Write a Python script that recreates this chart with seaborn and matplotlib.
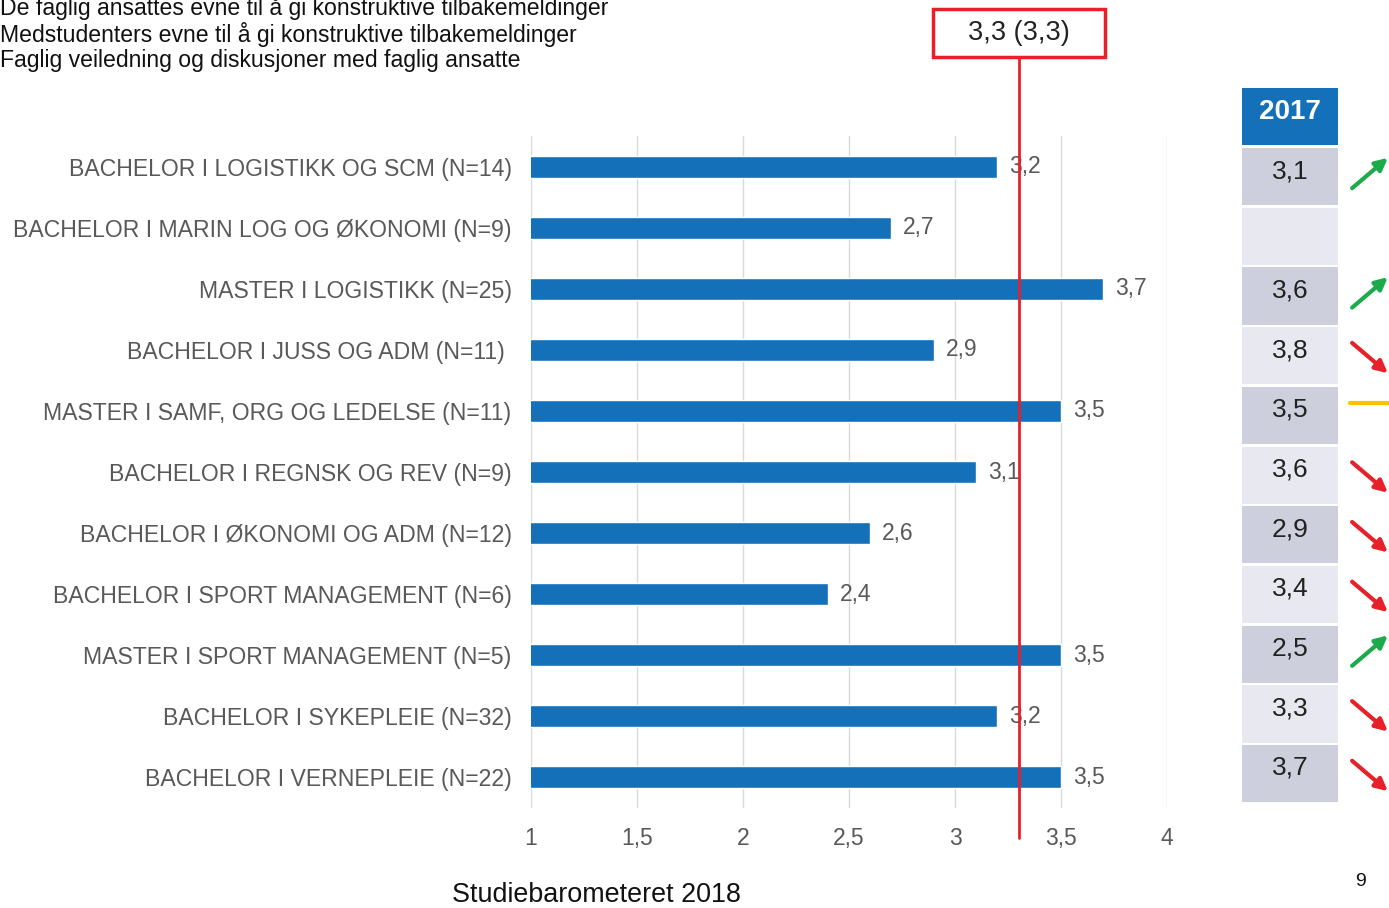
import numpy as np
import pandas as pd
import seaborn as sns
import matplotlib.pyplot as plt
from matplotlib.patches import Rectangle
from matplotlib.ticker import FuncFormatter

sns.set_theme(style="white")
plt.rcParams['font.family'] = ['Liberation Sans', 'DejaVu Sans']

# Data
programs = [
    "BACHELOR I LOGISTIKK OG SCM (N=14)",
    "BACHELOR I MARIN LOG OG ØKONOMI (N=9)",
    "MASTER I LOGISTIKK (N=25)",
    "BACHELOR I JUSS OG ADM (N=11) ",
    "MASTER I SAMF, ORG OG LEDELSE (N=11)",
    "BACHELOR I REGNSK OG REV (N=9)",
    "BACHELOR I ØKONOMI OG ADM (N=12)",
    "BACHELOR I SPORT MANAGEMENT (N=6)",
    "MASTER I SPORT MANAGEMENT (N=5)",
    "BACHELOR I SYKEPLEIE (N=32)",
    "BACHELOR I VERNEPLEIE (N=22)",
]
scores_2018 = [3.2, 2.7, 3.7, 2.9, 3.5, 3.1, 2.6, 2.4, 3.5, 3.2, 3.5]
scores_2017 = [3.1, None, 3.6, 3.8, 3.5, 3.6, 2.9, 3.4, 2.5, 3.3, 3.7]
mean_2018 = 3.3
mean_2017 = 3.3
question_lines = [
    "De faglig ansattes evne til å gi konstruktive tilbakemeldinger",
    "Medstudenters evne til å gi konstruktive tilbakemeldinger",
    "Faglig veiledning og diskusjoner med faglig ansatte",
]

blue = "#1570BA"
grey_txt = "#595959"


def comma(v):
    s = f"{v:g}"
    return s.replace(".", ",")


df = pd.DataFrame({"program": programs, "score": scores_2018})

fig = plt.figure(figsize=(13.89, 9.08), dpi=100)
ax = fig.add_axes([531 / 1389, 100 / 908, 636 / 1389, 672 / 908])

sns.barplot(data=df, x="score", y="program", color=blue, width=0.36,
            saturation=1, ax=ax, orient="h")
ax.set_xlim(1, 4)
ax.set_ylim(10.5, -0.5)
ax.set_xticks(np.arange(1, 4.01, 0.5))
ax.xaxis.set_major_formatter(FuncFormatter(lambda v, p: comma(v)))
ax.grid(axis="x", color="#D9D9D9", linewidth=1)
ax.set_axisbelow(True)
for s in ax.spines.values():
    s.set_visible(False)
ax.set_xlabel("")
ax.set_ylabel("")
ax.tick_params(axis="x", labelsize=16.5, colors=grey_txt, pad=14, length=0)
ax.tick_params(axis="y", labelsize=16.6, colors=grey_txt, pad=14, length=0)

for i, v in enumerate(scores_2018):
    ax.text(v + 0.055, i, comma(v), va="center", ha="left",
            fontsize=16.5, color=grey_txt)

# Mean line and box
ax.axvline(mean_2018, ymin=-0.045, ymax=1.118, color="#E8202A",
           linewidth=2, clip_on=False, zorder=5)
trans = ax.get_xaxis_transform()
box_w = 172 / 212
ax.add_patch(Rectangle((mean_2018 - box_w / 2, 1.118), box_w, 0.071,
                       transform=trans, facecolor="white", edgecolor="#E8202A",
                       linewidth=2.5, clip_on=False, zorder=6))
ax.text(mean_2018, 1.153, f"{comma(mean_2018)} ({comma(mean_2017)})",
        transform=trans, ha="center", va="center", fontsize=19.5,
        color="#222222", zorder=7)

# Overlay in pixel coordinates for table, titles and footer
ov = fig.add_axes([0, 0, 1, 1], facecolor="none")
ov.set_xlim(0, 1389)
ov.set_ylim(908, 0)
ov.axis("off")

for k, line in enumerate(question_lines):
    ov.text(0, 8 + k * 26.5, line, ha="left", va="center", fontsize=16.6,
            color="#111111")

# 2017 column
col_x, col_w = 1242, 96
ov.add_patch(Rectangle((col_x, 88), col_w, 57, facecolor=blue, edgecolor="none"))
ov.text(col_x + col_w / 2, 112, "2017", ha="center", va="center",
        fontsize=20, fontweight="bold", color="white")
cell_h = 59.7
for i, prev in enumerate(scores_2017):
    top = 148 + i * cell_h
    fc = "#CDCFDC" if i % 2 == 0 else "#E8E9F0"
    ov.add_patch(Rectangle((col_x, top), col_w, cell_h - 2.5, facecolor=fc,
                           edgecolor="none"))
    yc = top + 23
    if prev is None:
        continue
    ov.text(col_x + col_w / 2, yc, comma(prev), ha="center", va="center",
            fontsize=19, color="#222222")
    cur = scores_2018[i]
    ay = top + 28
    if cur > prev:
        ov.annotate("", xy=(1390, ay - 20), xytext=(1350, ay + 14),
                    arrowprops=dict(arrowstyle="-|>", color="#1DAA4B",
                                    lw=3, mutation_scale=18),
                    annotation_clip=False)
    elif cur < prev:
        ov.annotate("", xy=(1390, ay + 20), xytext=(1350, ay - 14),
                    arrowprops=dict(arrowstyle="-|>", color="#E8202A",
                                    lw=3, mutation_scale=18),
                    annotation_clip=False)
    else:
        ov.plot([1350, 1389], [ay - 12, ay - 12], color="#FFC000", lw=3)

ov.text(596, 895, "Studiebarometeret 2018", ha="center", va="center",
        fontsize=19.4, color="#111111")
ov.text(1360, 882, "9", ha="center", va="center", fontsize=14,
        color="#111111")

fig.savefig("out.png", dpi=100)
